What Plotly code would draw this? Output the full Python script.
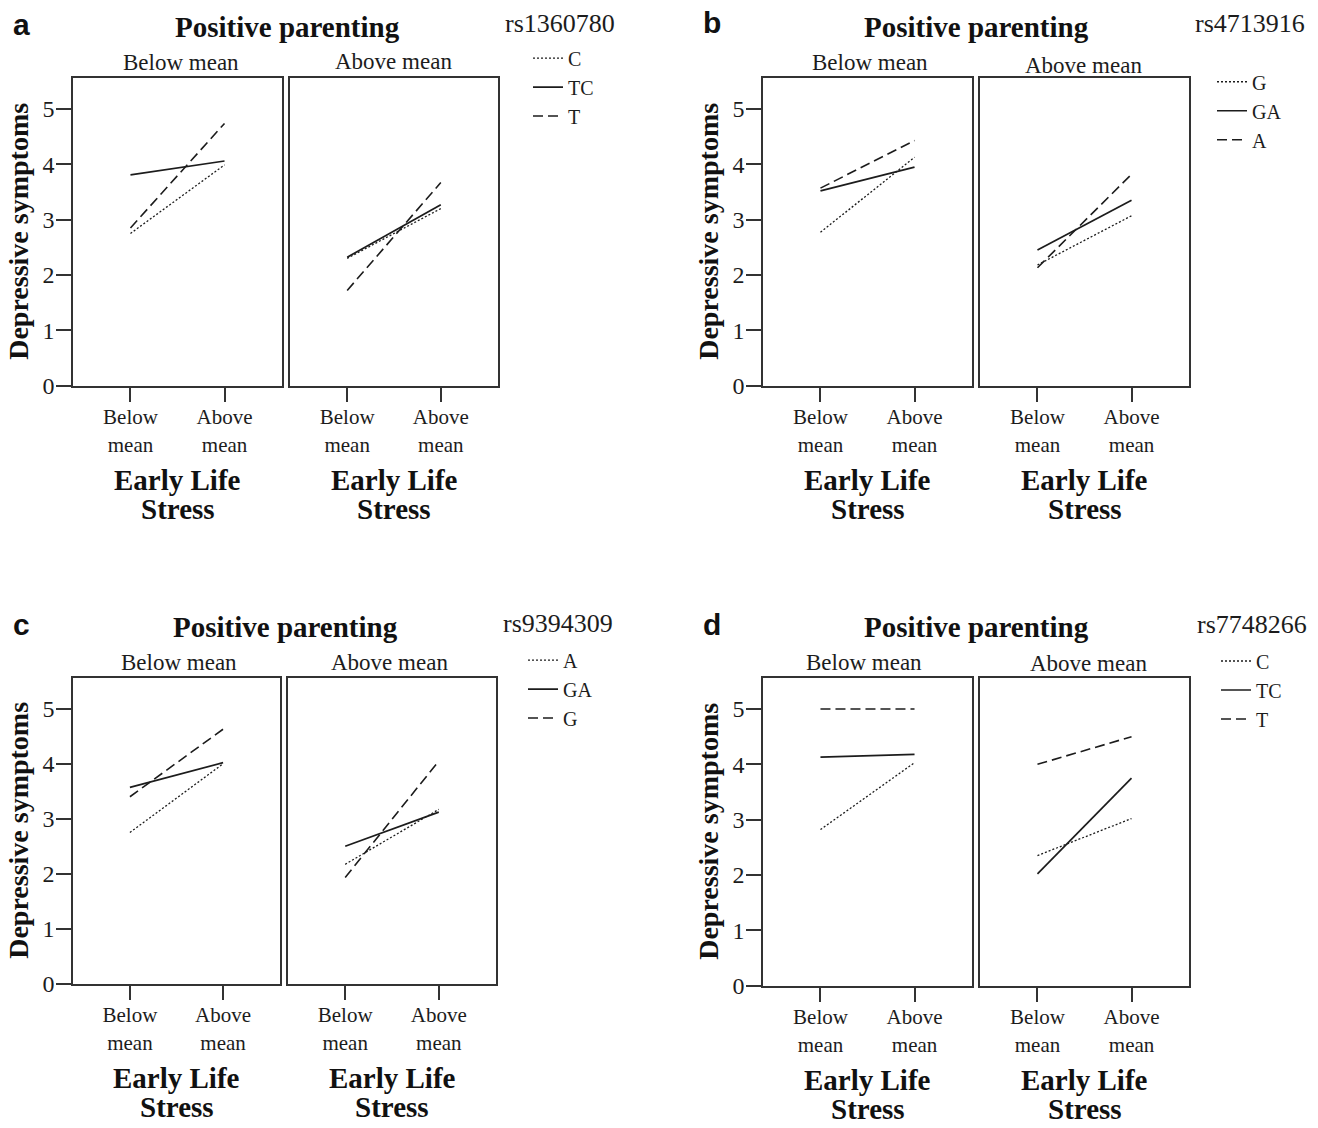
import plotly.graph_objects as go

W, H = 1318, 1128

# ---------------- data ----------------
stress_levels = ["Below mean", "Above mean"]          # x categories (Early Life Stress)
stress_ticktext = ["Below<br>mean", "Above<br>mean"]
parenting_levels = ["Below mean", "Above mean"]       # facet columns (Positive parenting)

snp_a = "rs1360780"
geno_a = ["C", "TC", "T"]
a_below = {"C": [2.75, 3.99], "TC": [3.81, 4.06], "T": [2.85, 4.74]}
a_above = {"C": [2.30, 3.20], "TC": [2.32, 3.27], "T": [1.72, 3.67]}

snp_b = "rs4713916"
geno_b = ["G", "GA", "A"]
b_below = {"G": [2.77, 4.13], "GA": [3.52, 3.95], "A": [3.57, 4.43]}
b_above = {"G": [2.18, 3.07], "GA": [2.45, 3.35], "A": [2.13, 3.82]}

snp_c = "rs9394309"
geno_c = ["A", "GA", "G"]
c_below = {"A": [2.75, 4.00], "GA": [3.57, 4.02], "G": [3.40, 4.63]}
c_above = {"A": [2.17, 3.17], "GA": [2.50, 3.12], "G": [1.93, 4.05]}

snp_d = "rs7748266"
geno_d = ["C", "TC", "T"]
d_below = {"C": [2.82, 4.03], "TC": [4.13, 4.18], "T": [5.00, 5.00]}
d_above = {"C": [2.35, 3.02], "TC": [2.02, 3.75], "T": [4.00, 4.50]}

y_ticks = [0, 1, 2, 3, 4, 5]
panel_letters = ["a", "b", "c", "d"]

# ---------------- styling ----------------
SERIF = "Liberation Serif, Times New Roman, serif"
SANS = "Liberation Sans, Arial, sans-serif"
INK = "#1c1c1c"
AX = "#333333"
styles = [
    dict(color=INK, width=1.3, dash="2px,2px"),    # first genotype: dotted
    dict(color=INK, width=1.7, dash="solid"),      # heterozygote: solid
    dict(color=INK, width=1.6, dash="10px,5px"),   # third genotype: dashed
]

# panel geometry in pixels: (left box x0,x1), (right box x0,x1), (y top, y bottom)
panels = [
    dict(snp=snp_a, geno=geno_a, data=[a_below, a_above],
         bx=[(73, 282), (290, 498)], by=(79, 390),
         letter=(21, 25), title=(287, 27), rs=(560, 24),
         sub=[(181, 63), (393, 62)], leg=(528, 39), ytitle_x=19),
    dict(snp=snp_b, geno=geno_b, data=[b_below, b_above],
         bx=[(763, 972), (980, 1189)], by=(79, 390),
         letter=(712, 23), title=(977, 27), rs=(1250, 24),
         sub=[(870, 63), (1083, 66)], leg=(1212, 63), ytitle_x=709),
    dict(snp=snp_c, geno=geno_c, data=[c_below, c_above],
         bx=[(73, 280), (288, 496)], by=(686, 995),
         letter=(21, 632), title=(285, 634), rs=(558, 631),
         sub=[(179, 670), (389, 670)], leg=(523, 648), ytitle_x=19),
    dict(snp=snp_d, geno=geno_d, data=[d_below, d_above],
         bx=[(763, 972), (980, 1189)], by=(686, 997),
         letter=(712, 632), title=(977, 634), rs=(1252, 632),
         sub=[(864, 670), (1088, 671)], leg=(1216, 649), ytitle_x=709),
]

def px(x):
    return x / W

def py(y):
    return 1 - y / H

fig = go.Figure()
layout = dict(
    width=W, height=H,
    margin=dict(l=0, r=0, t=0, b=0),
    paper_bgcolor="white", plot_bgcolor="white",
    showlegend=True,
    annotations=[],
)

for p, P in enumerate(panels):
    legname = "legend" if p == 0 else f"legend{p + 1}"
    for s in range(2):
        k = p * 2 + s + 1
        xa = "x" if k == 1 else f"x{k}"
        ya = "y" if k == 1 else f"y{k}"
        xkey = "xaxis" if k == 1 else f"xaxis{k}"
        ykey = "yaxis" if k == 1 else f"yaxis{k}"
        for gi, g in enumerate(P["geno"]):
            fig.add_trace(go.Scatter(
                x=stress_levels, y=P["data"][s][g], mode="lines",
                name=g, legendgroup=f"p{p}{g}", showlegend=(s == 0),
                legend=legname, line=styles[gi],
                xaxis=xa, yaxis=ya, hoverinfo="skip",
            ))
        x0, x1 = P["bx"][s]
        yt, yb = P["by"]
        layout[xkey] = dict(
            domain=[px(x0), px(x1)], anchor=ya,
            type="category", categoryorder="array", categoryarray=stress_levels,
            range=[-0.611, 1.611],
            tickvals=stress_levels, ticktext=stress_ticktext,
            ticks="outside", ticklen=15, tickwidth=1.5, tickcolor=AX,
            ticklabelstandoff=-3,
            showline=True, linecolor=AX, linewidth=1.5, mirror=True,
            showgrid=False, zeroline=False, fixedrange=True,
            tickfont=dict(family=SERIF, size=21, color=INK),
        )
        layout[ykey] = dict(
            domain=[py(yb), py(yt)], anchor=xa,
            range=[0, 5.56], tickvals=y_ticks,
            ticks="outside" if s == 0 else "", ticklen=15, tickwidth=1.5, tickcolor=AX,
            ticklabelstandoff=-3,
            showticklabels=(s == 0),
            showline=True, linecolor=AX, linewidth=1.5, mirror=True,
            showgrid=False, zeroline=False, fixedrange=True,
            tickfont=dict(family=SERIF, size=24, color=INK),
        )
        # facet title (Positive parenting level)
        sx, sy = P["sub"][s]
        layout["annotations"].append(dict(
            text=parenting_levels[s], x=px(sx), y=py(sy), xref="paper", yref="paper",
            xanchor="center", yanchor="middle", showarrow=False,
            font=dict(family=SERIF, size=23, color=INK)))
        # x-axis title
        cx = (x0 + x1) / 2
        for line_text, dy in (("Early Life", 96), ("Stress", 125)):
            layout["annotations"].append(dict(
                text=f"<b>{line_text}</b>", x=px(cx), y=py(yb + dy),
                xref="paper", yref="paper", xanchor="center", yanchor="middle",
                showarrow=False, font=dict(family=SERIF, size=29, color="#111")))
    # panel letter
    lx, ly = P["letter"]
    layout["annotations"].append(dict(
        text=f"<b>{panel_letters[p]}</b>", x=px(lx), y=py(ly), xref="paper", yref="paper",
        xanchor="center", yanchor="middle", showarrow=False,
        font=dict(family=SANS, size=30, color="#111")))
    # main title
    tx, ty = P["title"]
    layout["annotations"].append(dict(
        text="<b>Positive parenting</b>", x=px(tx), y=py(ty), xref="paper", yref="paper",
        xanchor="center", yanchor="middle", showarrow=False,
        font=dict(family=SERIF, size=29, color="#111")))
    # SNP label
    rx, ry = P["rs"]
    layout["annotations"].append(dict(
        text=P["snp"], x=px(rx), y=py(ry), xref="paper", yref="paper",
        xanchor="center", yanchor="middle", showarrow=False,
        font=dict(family=SERIF, size=26, color=INK)))
    # y-axis title
    yt, yb = P["by"]
    layout["annotations"].append(dict(
        text="<b>Depressive symptoms</b>", x=px(P["ytitle_x"]), y=py((yt + yb) / 2),
        xref="paper", yref="paper", xanchor="center", yanchor="middle",
        textangle=-90, showarrow=False,
        font=dict(family=SERIF, size=28, color="#111")))
    # legend
    gx, gy = P["leg"]
    layout[legname] = dict(
        x=px(gx), y=py(gy), xanchor="left", yanchor="top",
        bgcolor="rgba(0,0,0,0)", borderwidth=0, tracegroupgap=0,
        itemclick=False, itemdoubleclick=False,
        font=dict(family=SERIF, size=20, color=INK),
    )

fig.update_layout(**layout)
fig.write_html(
    "out.html",
    config={"displayModeBar": False},
    post_script="document.body.style.margin='0px';document.body.style.overflow='hidden';",
)
